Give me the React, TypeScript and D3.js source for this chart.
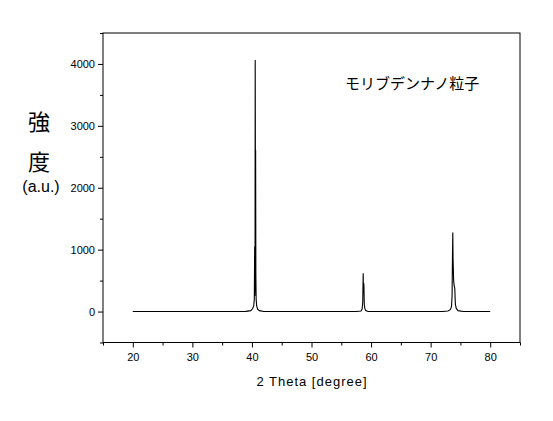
import { useEffect, useRef } from "react";
import * as d3 from "d3";

// 2θ positions (degrees) and intensities
const twoTheta = [
  20, 39.0, 39.8, 40.1, 40.3, 40.4, 40.46, 40.49, 40.52, 40.55, 40.58, 40.62, 40.66, 40.71, 40.8, 40.95, 41.25, 42.0,
  57.5, 58.3, 58.5, 58.6, 58.68, 58.72, 58.76, 58.8, 58.86, 58.95, 59.1, 59.5,
  72.0, 72.9, 73.3, 73.5, 73.6, 73.65, 73.72, 73.76, 73.8, 73.86, 73.95, 74.05, 74.15, 74.3, 74.6, 75.5, 80,
];
const intensity = [
  0, 3, 15, 45, 90, 200, 1050, 250, 400, 4065, 2600, 2600, 600, 200, 90, 40, 15, 0,
  0, 10, 40, 150, 620, 300, 460, 420, 120, 50, 15, 0,
  0, 10, 30, 80, 250, 780, 1275, 860, 720, 500, 420, 375, 120, 50, 15, 0, 0,
];

const xTicks = [20, 30, 40, 50, 60, 70, 80];
const xMinor = [15, 25, 35, 45, 55, 65, 75, 85];
const yTicks = [0, 1000, 2000, 3000, 4000];
const yMinor = [-500, 500, 1500, 2500, 3500, 4500];

export default function App() {
  const svgRef = useRef<SVGSVGElement>(null);

  useEffect(() => {
    if (!svgRef.current) return;
    const svg = d3.select(svgRef.current);
    svg.selectAll("*").remove();

    const left = 103, right = 520, top = 33, bottom = 342.5;
    const font = "Arial, 'Liberation Sans', sans-serif";

    const x = d3.scaleLinear().domain([15, 85]).range([left, right]);
    const y = d3.scaleLinear().domain([-500, 4500]).range([bottom, top]);

    svg.append("rect").attr("width", 553).attr("height", 421).attr("fill", "#fff");

    // frame
    svg
      .append("rect")
      .attr("x", left)
      .attr("y", top)
      .attr("width", right - left)
      .attr("height", bottom - top)
      .attr("fill", "none")
      .attr("stroke", "#000")
      .attr("stroke-width", 1);

    // x axis
    const gx = svg.append("g").attr("transform", `translate(0,${bottom})`);
    gx.call(d3.axisBottom(x).tickValues(xTicks).tickSize(5).tickPadding(6).tickFormat(d3.format("d")));
    gx.append("g").call(d3.axisBottom(x).tickValues(xMinor).tickSize(3).tickFormat(() => ""));
    gx.selectAll(".domain").remove();
    gx.selectAll("text").attr("font-family", font).attr("font-size", 11).attr("fill", "#000");

    // y axis
    const gy = svg.append("g").attr("transform", `translate(${left},0)`);
    gy.call(d3.axisLeft(y).tickValues(yTicks).tickSize(5).tickPadding(3).tickFormat(d3.format("d")));
    gy.append("g").call(d3.axisLeft(y).tickValues(yMinor).tickSize(3).tickFormat(() => ""));
    gy.selectAll(".domain").remove();
    gy.selectAll("text").attr("font-family", font).attr("font-size", 11).attr("fill", "#000");

    // spectrum
    const pts = twoTheta.map((t, i) => [t, intensity[i]] as [number, number]);
    const line = d3
      .line<[number, number]>()
      .x((d) => x(d[0]))
      .y((d) => y(d[1]));
    svg
      .append("path")
      .datum(pts)
      .attr("d", line)
      .attr("fill", "none")
      .attr("stroke", "#000")
      .attr("stroke-width", 1.1);

    // labels
    svg
      .append("text")
      .attr("x", 312)
      .attr("y", 386)
      .attr("text-anchor", "middle")
      .attr("font-family", font)
      .attr("font-size", 13)
      .attr("letter-spacing", 1)
      .text("2 Theta [degree]");

    const jp = "'Noto Sans CJK JP', sans-serif";
    svg.append("text").attr("x", 39).attr("y", 130).attr("text-anchor", "middle")
      .attr("font-family", jp).attr("font-size", 22).text("強");
    svg.append("text").attr("x", 39).attr("y", 170).attr("text-anchor", "middle")
      .attr("font-family", jp).attr("font-size", 22).text("度");
    svg.append("text").attr("x", 41).attr("y", 192).attr("text-anchor", "middle")
      .attr("font-family", font).attr("font-size", 16).text("(a.u.)");

    svg.append("text").attr("x", 345).attr("y", 89)
      .attr("font-family", jp).attr("font-size", 15).text("モリブデンナノ粒子");
  }, []);

  return (
    <svg
      ref={svgRef}
      width={553}
      height={421}
      style={{ position: "absolute", left: 0, top: 0, display: "block" }}
    />
  );
}
